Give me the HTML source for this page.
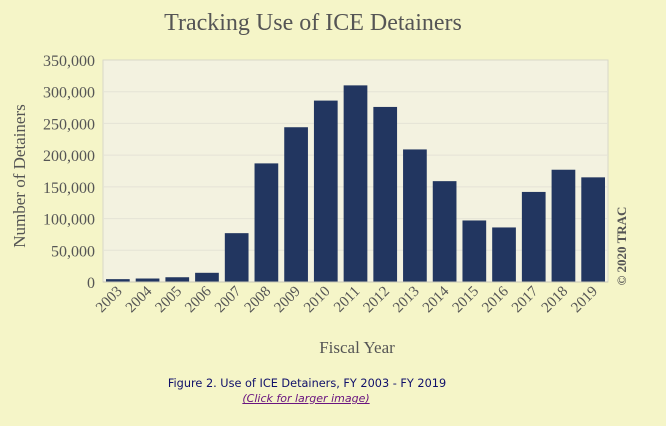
<!DOCTYPE html>
<html><head><meta charset="utf-8"><style>
body{margin:0;background:#f5f5c8;width:666px;height:426px;overflow:hidden;font-family:"Liberation Serif",serif;}
svg text{font-family:"Liberation Serif",serif;}
.cap{position:absolute;left:0;width:666px;text-align:center;font-family:"DejaVu Sans",sans-serif;font-size:11.3px;}
</style></head><body>
<svg id="ch" width="666" height="360" style="position:absolute;left:0;top:0;font-family:'Liberation Serif',serif"></svg>
<div class="cap" style="top:377px;color:#10106a;left:-26px">Figure 2. Use of ICE Detainers, FY 2003 - FY 2019</div>
<a class="cap" style="top:392px;color:#6a1580;font-style:italic;text-decoration:underline;left:-27px;font-size:11px">(Click for larger image)</a>
<script>
const years=["2003","2004","2005","2006","2007","2008","2009","2010","2011","2012","2013","2014","2015","2016","2017","2018","2019"];
const values=[4500,5500,7500,14500,77000,187000,244000,286000,310000,276000,209000,159000,97000,86000,142000,177000,165000];
const ticks=[0,50000,100000,150000,200000,250000,300000,350000];
const NS="http://www.w3.org/2000/svg",svg=document.getElementById('ch');
const L=103,R=608,T=60,B=282,ymax=350000;
const y=v=>B-(v/ymax)*(B-T);
const bw=(R-L)/years.length;
const x=i=>L+i*bw;
function mk(t,a,txt){const e=document.createElementNS(NS,t);for(const k in a)e.setAttribute(k,a[k]);if(txt!=null)e.textContent=txt;svg.appendChild(e);return e;}
let e=mk('rect',{x:L,y:T,width:R-L,height:B-T,fill:'#f3f2e0',stroke:'#d8d8c8'});


e=mk('text',{x:313,y:30,'text-anchor':'middle','font-size':24,fill:'#555'},'Tracking Use of ICE Detainers');


ticks.forEach(t=>{
 if(t>0&&t<ymax){e=mk('line',{x1:L,x2:R,y1:y(t),y2:y(t),stroke:'#e4e3d6'});
 
 }
 e=mk('text',{x:L-8,y:y(t)+6,'text-anchor':'end','font-size':16,fill:'#555'},t.toLocaleString('en-US'));
 
 
});
years.forEach((yr,i)=>{
 e=mk('rect',{x:x(i)+3,y:y(values[i]),width:bw-6,height:B-y(values[i]),fill:'#223660'});
 
 
 const cx=x(i)+bw/2+5,cy=292;
 e=mk('text',{x:cx,y:cy,'text-anchor':'end','font-size':15,fill:'#555',transform:`rotate(-45 ${cx} ${cy})`},yr);
 
 
});
mk('line',{x1:L,x2:R,y1:B,y2:B,stroke:'#c8c8b8'});
e=mk('text',{x:357,y:353,'text-anchor':'middle','font-size':17,fill:'#555'},'Fiscal Year');


e=mk('text',{x:25,y:176,'text-anchor':'middle','font-size':17,fill:'#555',transform:'rotate(-90 25 176)'},'Number of Detainers');


e=mk('text',{x:626,y:246,'text-anchor':'middle','font-size':13,'font-weight':'bold',fill:'#555',transform:'rotate(-90 626 246)'},'© 2020 TRAC');


</script>
</body></html>
